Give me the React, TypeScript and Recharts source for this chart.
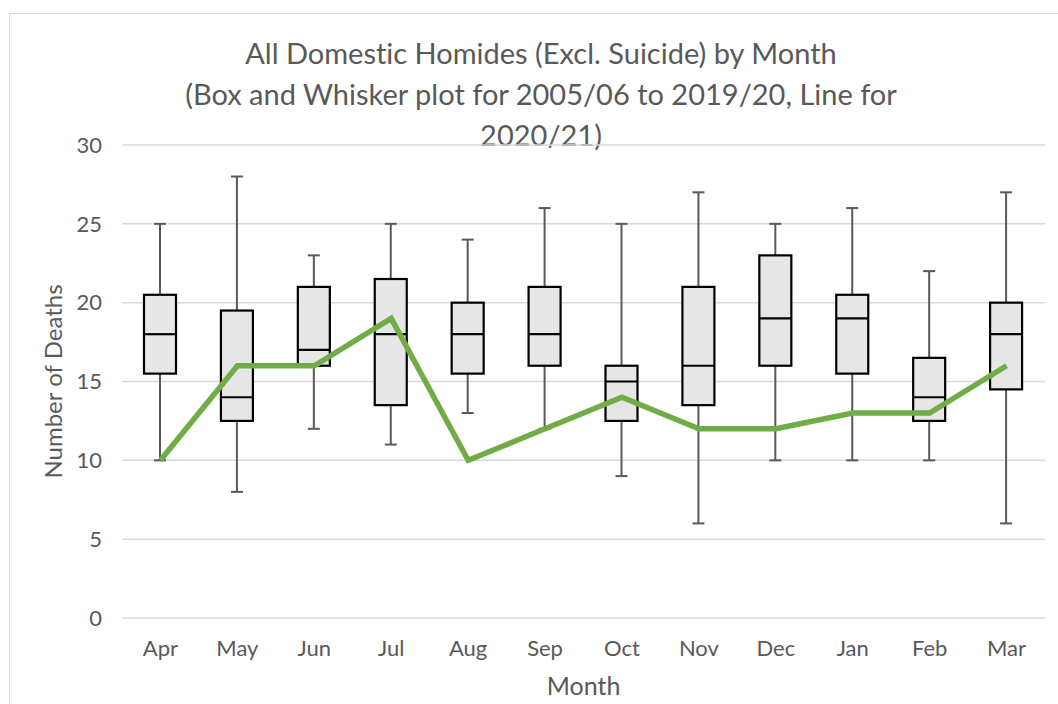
import React from 'react';
import { ComposedChart, Bar, Line, XAxis, YAxis, CartesianGrid } from 'recharts';

const months = ['Apr', 'May', 'Jun', 'Jul', 'Aug', 'Sep', 'Oct', 'Nov', 'Dec', 'Jan', 'Feb', 'Mar'];
const mins = [10, 8, 12, 11, 13, 12, 9, 6, 10, 10, 10, 6];
const q1s = [15.5, 12.5, 16, 13.5, 15.5, 16, 12.5, 13.5, 16, 15.5, 12.5, 14.5];
const medians = [18, 14, 17, 18, 18, 18, 15, 16, 19, 19, 14, 18];
const q3s = [20.5, 19.5, 21, 21.5, 20, 21, 16, 21, 23, 20.5, 16.5, 20];
const maxs = [25, 28, 23, 25, 24, 26, 25, 27, 25, 26, 22, 27];
const deaths2021 = [10, 16, 16, 19, 10, 12, 14, 12, 12, 13, 13, 16];
const yTicks = [0, 5, 10, 15, 20, 25, 30];

const data = months.map((m, i) => ({
    month: m,
    min: mins[i],
    q1: q1s[i],
    median: medians[i],
    q3: q3s[i],
    max: maxs[i],
    range: [mins[i], maxs[i]],
    current: deaths2021[i],
}));

const FONT = 'Lato, "Open Sans", sans-serif';
const TEXT = '#595959';

// draws the whole box + whiskers from the range bar's geometry
const BoxShape = (props: any) => {
    const { x, y, width, height, payload } = props;
    if (!payload) return null;
    const top = Math.min(y, y + height);
    const span = Math.abs(height);
    const k = span / (payload.max - payload.min);
    const py = (v: number) => top + (payload.max - v) * k;
    const cx = x + width / 2;
    const cap = 6;
    return (
        <g>
            <line x1={cx} x2={cx} y1={py(payload.max)} y2={py(payload.q3)} stroke={TEXT} strokeWidth={2} />
            <line x1={cx} x2={cx} y1={py(payload.q1)} y2={py(payload.min)} stroke={TEXT} strokeWidth={2} />
            <line x1={cx - cap} x2={cx + cap} y1={py(payload.max)} y2={py(payload.max)} stroke={TEXT} strokeWidth={2} />
            <line x1={cx - cap} x2={cx + cap} y1={py(payload.min)} y2={py(payload.min)} stroke={TEXT} strokeWidth={2} />
            <rect x={x} y={py(payload.q3)} width={width} height={py(payload.q1) - py(payload.q3)}
                fill="#e7e6e6" stroke="#000" strokeWidth={2.2} />
            <line x1={x} x2={x + width} y1={py(payload.median)} y2={py(payload.median)} stroke="#000" strokeWidth={2.2} />
        </g>
    );
};

const YLabel = (props: any) => {
    const vb = props.viewBox || {};
    const cy = vb.y + vb.height / 2;
    return (
        <text x={52} y={cy} transform={`rotate(-90, 52, ${cy})`} textAnchor="middle" dominantBaseline="central"
            fill={TEXT} fontSize={24} fontFamily={FONT}>
            Number of Deaths
        </text>
    );
};

export default function App() {
    return (
        <div style={{
            position: 'absolute', left: 0, top: 0, width: 1058, height: 704, background: '#fff',
            fontFamily: FONT, fontVariantLigatures: 'none',
        }}>
            <div style={{ position: 'absolute', left: 9, top: 13, width: 1060, height: 700, border: '1.5px solid #d9d9d9' }} />
            <div style={{
                position: 'absolute', left: 0, width: 1082, top: 32, textAlign: 'center',
                color: TEXT, fontSize: 29, lineHeight: '41px', whiteSpace: 'nowrap',
            }}>
                All Domestic Homides (Excl. Suicide) by Month<br />
                (Box and Whisker plot for 2005/06 to 2019/20, Line for<br />
                2020/21)
            </div>
            <ComposedChart
                width={1058}
                height={704}
                data={data}
                margin={{ top: 145, right: 13, bottom: 56, left: 62 }}
                style={{ position: 'absolute', left: 0, top: 0 }}
            >
                <CartesianGrid vertical={false} stroke="#d9d9d9" strokeWidth={1.5} />
                <XAxis
                    dataKey="month"
                    axisLine={false}
                    tickLine={false}
                    tickMargin={16}
                    height={30}
                    tick={{ fill: TEXT, fontSize: 22, fontFamily: FONT }}
                    label={{ value: 'Month', position: 'bottom', offset: 29, fill: TEXT, fontSize: 25, fontFamily: FONT }}
                />
                <YAxis
                    domain={[0, 30]}
                    ticks={yTicks}
                    width={60}
                    axisLine={false}
                    tickLine={false}
                    tickMargin={14}
                    tick={{ fill: TEXT, fontSize: 22, fontFamily: FONT }}
                    label={<YLabel />}
                />
                <Bar dataKey="range" barSize={32} shape={<BoxShape />} isAnimationActive={false} />
                <Line type="linear" dataKey="current" stroke="#70ad47" strokeWidth={5.5} dot={false} isAnimationActive={false} />
            </ComposedChart>
        </div>
    );
}
